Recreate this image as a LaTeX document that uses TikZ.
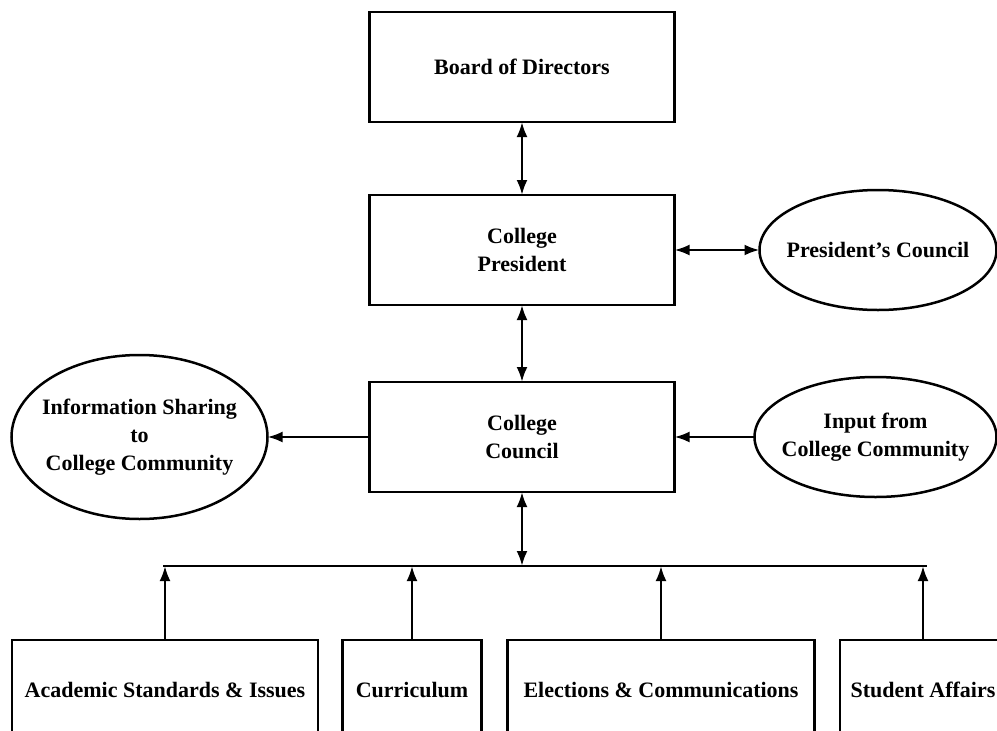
\documentclass[tikz,border=0pt]{standalone}
\usepackage{fontspec}
\setmainfont{Liberation Serif}
\usetikzlibrary{shapes.geometric,arrows.meta,positioning}

\begin{document}
\begin{tikzpicture}[x=1pt,y=-1pt,
  every node/.style={font=\bfseries\fontsize{22}{28}\selectfont,align=center,line width=2.5pt,outer sep=0pt},
  unit/.style={draw,rectangle,minimum width=305pt,minimum height=110pt},
  sub/.style={draw,rectangle,minimum height=100pt,anchor=center},
  bubble/.style={draw,ellipse,inner sep=-15pt,minimum width=#1},
  wire/.style={line width=2.6pt},
  link/.style={wire,-{Latex[length=15pt,width=11pt]}},
  both/.style={wire,{Latex[length=15pt,width=11pt]}-{Latex[length=15pt,width=11pt]}}]
\clip (0,0) rectangle (997,731);
\useasboundingbox (0,0) rectangle (997,731);
\node[unit] (board) at (522,67) {Board of Directors};
\node[unit,below=73pt of board] (president) {College\\President};
\node[unit,below=77pt of president] (council) {College\\Council};
\node[bubble=237pt,minimum height=120pt,right=85pt of president] (pcouncil) {President’s Council};
\node[bubble=256pt,minimum height=164pt,left=102pt of council] (share) {Information Sharing\\to\\College Community};
\node[bubble=242pt,minimum height=120pt,right=80pt of council] (input) {Input from\\College Community};
\node[sub,minimum width=306pt] (acad) at (165,690) {Academic Standards \& Issues};
\node[sub,minimum width=139pt] (curr) at (412,690) {Curriculum};
\node[sub,minimum width=307pt] (elect) at (661,690) {Elections \& Communications};
\node[sub,minimum width=166pt] (stud) at (923,690) {Student Affairs};
\coordinate (busL) at (163,566);
\coordinate (busR) at (927,566);
\draw[both] (board) -- (president);
\draw[both] (president) -- (council);
\draw[both] (president) -- (pcouncil);
\draw[link] (council) -- (share);
\draw[link] (input) -- (council);
\draw[wire] (busL) -- (busR);
\draw[both] (council.south) -- (council.south |- busL);
\foreach \s in {acad,curr,elect,stud}
  \draw[link] (\s.north) -- (\s.north |- busL);
\end{tikzpicture}
\end{document}
